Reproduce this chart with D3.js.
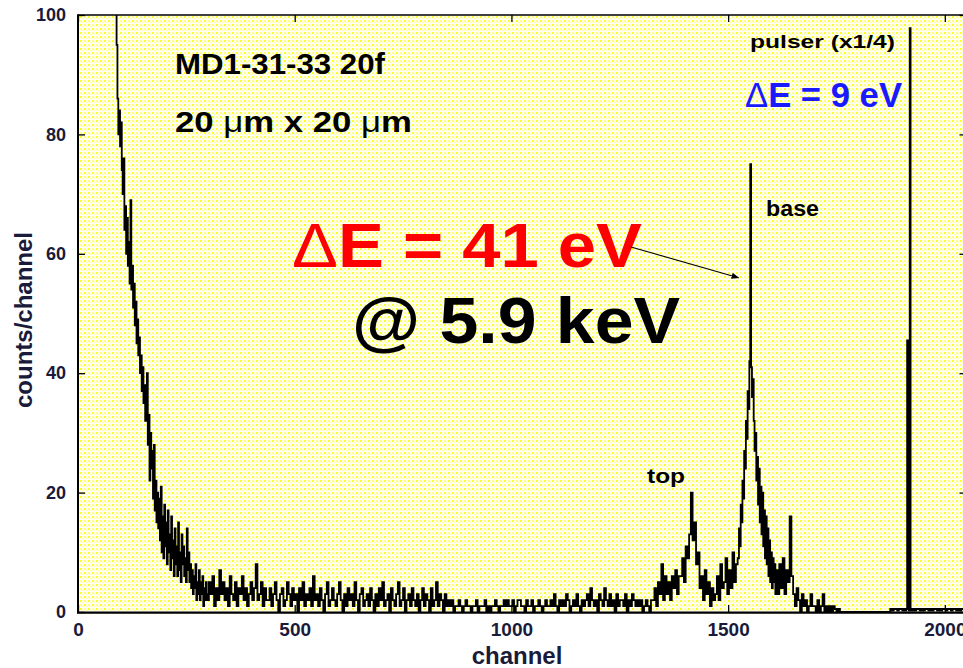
<!DOCTYPE html>
<html><head><meta charset="utf-8">
<script src="https://cdn.jsdelivr.net/npm/d3@7"></script>
<style>html,body{margin:0;padding:0;background:#fff}svg{display:block}</style>
</head><body>
<svg id="chart" width="963" height="668"></svg>
<script>
// Pulse-height spectrum (counts per channel), stored as runs of channels:
// each run has a first channel, a channel step and its counts.
const runStart = [84, 300, 860, 1296, 1524, 1612, 1910, 1928];
const runStep  = [2, 4, 4, 4, 2, 4, 2, 4];

// noise tail at low channels
const countsTail = [130,120,104,95,86,80,84,78,82,74, 70,76,64,68,60,66,58,62,55,69,
  54,58,51,55,48,52,45,49,43,46, 40,43,37,41,35,38,32,36,40,28, 33,22,30,24,27,19,28,17,
  22,15,20,14,19,12,21,10,16,9, 18,11,15,8,17,10,13,7,16,9, 12,6,14,8,11,6,15,7,10,5,
  13,8,11,6,9,5,14,7,10,5, 8,4,7,3,6,4,8,2,5,3, 7,2,5,3,6,1,4,2,5,3];
// flat background
const countsFlatA = [2,5,3,6,1,4,2,7,3,5,2,4,1,6,3,2,5,1,4,3,6,2,4,1,3,5,2,4,8,2,3,5,1,4,2,
  2,4,1,3,5,2,0,3,4,1,2,5,3,1,4,
  2,3,0,4,2,5,1,3,2,4,1,6,2,3,1,
  4,2,0,3,5,1,2,4,2,1,3,5,2,0,3,
  1,4,2,3,1,5,2,0,3,4,1,2,3,1,4,
  2,0,3,1,4,2,5,1,2,3,0,4,2,1,3,
  5,1,2,4,0,2,3,1,4,2,1,3,0,2,4,
  1,3,2,0,4,1,2,5,1,3,2,0,3,1,2];
const countsFlatB = [1,2,0,1,1,2,1,0,1,2,1,1,0,1,1,2,0,1,1,1,2,0,1,0,1,1,2,1,0,1,1,2,
  1,2,1,1,2,0,1,2,2,1,1,0,2,1,1,2,0,1,1,2,1,0,1,2,1,1,
  2,1,3,1,0,2,1,2,1,3,2,0,1,2,1,3,1,0,2,1,2,
  3,1,4,2,1,2,0,3,2,1,4,2,1,3,1,2,0,3,1,2,2,1,3,0,2,1,3,2,1,2];
// "top" line region
const countsTop = [1,2,0,1,2,1,0,2,
  2,4,1,5,3,8,2,6,3,5,2,6,4,7,3,6,
  6,9,5,11,9,13,20,12,15,8,10,4,
  6,2,7,3,5,1,4,2,
  3,6,2,8,4,5,9,3,7,4,10,5,8];
// "base" line (5.9 keV)
const countsBase = [9,14,11,18,15,22,19,27,24,32,29,37,34,42,75,41,36,39,
  32,27,30,22,26,18,24,15,21,13,20,11,17,9,16,8,14,6,12,5,10,4,9,5,8,3];
// high side of the lines, up to the pulser (pulser region scaled x1/4)
const countsHigh = [7,3,8,4,9,3,7,5,16,6,
  3,1,4,2,0,3,1,2,0,1,3,1,
  1,0,2,0,1,3,0,1,0,1,0,1,
  0.5,0,0.5,0,0,0,0,0,0,
  0,0,0,0,0,0,0,0,0,0,0,0,0,0,0,0,0,0,0,0,0,0,0,
  0.5,0.25,0.5,0.5,0.25,0.5,0.5,0.25,0.5];
// pulser (x1/4)
const countsPulser = [0.25,0.5,45.5,0.5,0.25,97.8,0.5,0.25];
const countsEnd = [0.5,0.25,0.5,0.5,0.25,0.5,0.25,0.5,0.5,0.25,0.5,0.25,0.5,0.5,0.25,0.5,
  0.25,0.5,0.5,0.25,0.5,0.5,0.25,0.5,0.5,0.25,0.5,0.25,0.5,0.5,0.25];

const runCounts = [countsTail, countsFlatA, countsFlatB, countsTop, countsBase, countsHigh, countsPulser, countsEnd];

const xTicks = [0, 500, 1000, 1500, 2000];
const yTicks = [0, 20, 40, 60, 80, 100];
const xTitle = "channel";
const yTitle = "counts/channel";

// ---- layout ----
const svg = d3.select("#chart");
const plotL = 78, plotR = 966.5, plotT = 15, plotB = 612;
const x = d3.scaleLinear().domain([0, 2050]).range([plotL, plotR]);
const y = d3.scaleLinear().domain([0, 100]).range([plotB, plotT]);
const FONT = "'Liberation Sans', Arial, Helvetica, sans-serif";

const defs = svg.append("defs");
// pale yellow dotted fill of the plot area
const pat = defs.append("pattern").attr("id", "dots")
  .attr("width", 8).attr("height", 8).attr("patternUnits", "userSpaceOnUse");
pat.append("rect").attr("width", 8).attr("height", 8).attr("fill", "#fffff4");
[[0,0,"#ffff1a"],[4,4,"#ffff1a"],[4,0,"#ffff90"],[0,4,"#ffff90"]].forEach(([px,py,c]) => {
  pat.append("rect").attr("x", px).attr("y", py).attr("width", 2).attr("height", 2).attr("fill", c);
});
[[2,2],[6,6],[2,6],[6,2]].forEach(([px,py]) => {
  pat.append("rect").attr("x", px).attr("y", py).attr("width", 1).attr("height", 1).attr("fill", "#ffffb0");
});
defs.append("clipPath").attr("id", "plotClip").append("rect")
  .attr("x", plotL).attr("y", plotT).attr("width", plotR - plotL).attr("height", plotB - plotT);
const mk = defs.append("marker").attr("id", "arrowHead")
  .attr("viewBox", "0 0 10 10").attr("refX", 9).attr("refY", 5)
  .attr("markerWidth", 7).attr("markerHeight", 7).attr("orient", "auto");
mk.append("path").attr("d", "M0,1 L10,5 L0,9 Z").attr("fill", "#000");

svg.append("rect").attr("x", plotL).attr("y", plotT)
  .attr("width", plotR - plotL).attr("height", plotB - plotT).attr("fill", "url(#dots)");

// ---- spectrum trace ----
const points = [];
runCounts.forEach((arr, i) => arr.forEach((c, j) => points.push({ch: runStart[i] + j * runStep[i], c})));
const line = d3.line().x(d => x(d.ch)).y(d => y(d.c)).curve(d3.curveStep);
svg.append("path").datum(points).attr("clip-path", "url(#plotClip)")
  .attr("d", line).attr("fill", "none").attr("stroke", "#000").attr("stroke-width", 1.8)
  .attr("stroke-linejoin", "miter");

// ---- axes (ticks on all four sides, pointing inward) ----
const tickColor = "#1a1a3a";
function styleAxis(g) {
  g.select(".domain").remove();
  g.selectAll(".tick line").attr("stroke", "#000").attr("stroke-width", 1.3);
  g.selectAll(".tick text").attr("fill", tickColor).attr("font-family", FONT)
    .attr("font-weight", "bold");
}
svg.append("g").attr("transform", `translate(${plotL},0)`)
  .call(d3.axisLeft(y).tickValues(yTicks).tickFormat(d3.format("d"))
    .tickSizeInner(-7).tickSizeOuter(0).tickPadding(12))
  .call(styleAxis).call(g => g.selectAll(".tick text").attr("font-size", 18));
svg.append("g").attr("transform", `translate(0,${plotB})`)
  .call(d3.axisBottom(x).tickValues(xTicks).tickFormat(d3.format("d"))
    .tickSizeInner(-7).tickSizeOuter(0).tickPadding(11))
  .call(styleAxis).call(g => g.selectAll(".tick text").attr("font-size", 19));
svg.append("g").attr("transform", `translate(0,${plotT})`)
  .call(d3.axisTop(x).tickValues(xTicks).tickSizeInner(-7).tickSizeOuter(0).tickFormat(""))
  .call(styleAxis);
svg.append("g").attr("transform", `translate(${plotR},0)`)
  .call(d3.axisRight(y).tickValues(yTicks).tickSizeInner(-7).tickSizeOuter(0).tickFormat(""))
  .call(styleAxis);

// frame
svg.append("line").attr("x1", plotL).attr("x2", plotL).attr("y1", plotT - 0.7).attr("y2", plotB + 1.2)
  .attr("stroke", "#000").attr("stroke-width", 2);
svg.append("line").attr("x1", plotL).attr("x2", plotR).attr("y1", plotT).attr("y2", plotT)
  .attr("stroke", "#000").attr("stroke-width", 1.5);
svg.append("line").attr("x1", plotL - 1).attr("x2", plotR).attr("y1", plotB + 0.6).attr("y2", plotB + 0.6)
  .attr("stroke", "#000").attr("stroke-width", 2.4);
svg.append("line").attr("x1", plotR).attr("x2", plotR).attr("y1", plotT).attr("y2", plotB)
  .attr("stroke", "#000").attr("stroke-width", 1.5);

// axis titles
svg.append("text").attr("x", 517).attr("y", 664).attr("text-anchor", "middle")
  .attr("font-family", FONT).attr("font-weight", "bold").attr("font-size", 24)
  .attr("fill", tickColor).text(xTitle);
svg.append("text").attr("transform", "translate(32,320) rotate(-90)").attr("text-anchor", "middle")
  .attr("font-family", FONT).attr("font-weight", "bold").attr("font-size", 24)
  .attr("fill", tickColor).text(yTitle);

// ---- annotations ----
function label(tx, ty, size, color, parts, len) {
  const t = svg.append("text").attr("x", tx).attr("y", ty)
    .attr("font-family", FONT).attr("font-size", size).attr("fill", color);
  if (len) t.attr("textLength", len).attr("lengthAdjust", "spacingAndGlyphs");
  parts.forEach(([s, w]) => t.append("tspan").attr("font-weight", w).text(s));
  return t;
}
label(175, 74, 30, "#000", [["MD1-31-33 20f", "bold"]], 210);
label(175, 132, 30, "#000", [["20 ", "bold"], ["\u03bc", "normal"], ["m x 20 ", "bold"], ["\u03bc", "normal"], ["m", "bold"]], 237);
label(292, 267, 63, "#ff0000", [["\u0394", "normal"], ["E = 41 eV", "bold"]], 350);
label(352, 343, 64, "#000", [["@ 5.9 keV", "bold"]], 328);
label(766, 216, 22, "#000", [["base", "bold"]], 53);
label(647, 483, 21, "#000", [["top", "bold"]], 38);
label(750, 48, 19, "#000", [["pulser (x1/4)", "bold"]], 145);
label(745, 107, 35, "#1a1aff", [["\u0394", "normal"], ["E = 9 eV", "bold"]], 157);

// arrow from the resolution label to the base line
svg.append("line").attr("x1", 631).attr("y1", 247)
  .attr("x2", x(1524)).attr("y2", y(56))
  .attr("stroke", "#000").attr("stroke-width", 1.1).attr("marker-end", "url(#arrowHead)");
</script>
</body></html>
